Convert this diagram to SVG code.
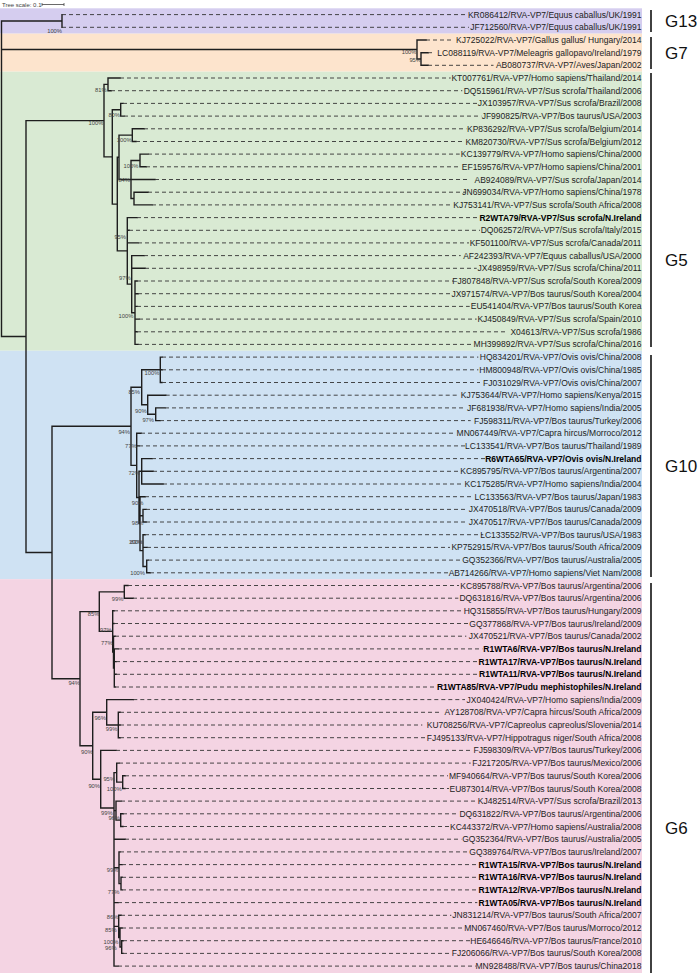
<svg xmlns="http://www.w3.org/2000/svg" width="700" height="973" viewBox="0 0 700 973">
<style>
text{font-family:"Liberation Sans",Arial,sans-serif}
.t{font-size:8.5px;fill:#222;text-anchor:end}
.b{font-weight:bold;fill:#000}
.bs{font-size:5.8px;fill:#444;text-anchor:end}
.br{stroke:#1e1e1e;stroke-width:1.4;fill:none;stroke-linecap:square}
.ds{stroke:#333;stroke-width:0.9;fill:none;stroke-dasharray:4 3}
.bar{stroke:#111;stroke-width:1.6}
.cl{font-size:17px;fill:#111}
</style>
<rect width="700" height="973" fill="#fff"/>
<g id="bands">
<rect x="0" y="8.3" width="642" height="25.35" fill="#d5cdef"/>
<rect x="0" y="33.65" width="642" height="38" fill="#fde4cd"/>
<rect x="0" y="71.65" width="642" height="279.1" fill="#d9ead3"/>
<rect x="0" y="350.75" width="642" height="228.4" fill="#cfe2f3"/>
<rect x="0" y="579.15" width="642" height="393.85" fill="#f4d4e3"/>
</g>
<g id="scale">
<text x="2" y="7" style="font-size:6px;fill:#444">Tree scale: 0.1</text>
<path d="M42 4.5H64M42 3V6M64 3V6" stroke="#444" stroke-width="0.8"/>
</g>
<g id="connectors">
<path class="br" d="M1.5 20.95V336.5M1.5 20.95H62M1.5 49.5H417M1.5 336.5H26
M62 14.6V27.3
M417 40V59M417 40H426M417 59H421
M421 52.7V65.3M421 52.7H428M421 65.3H428
M26 120.6V552.5M26 120.6H104M26 552.5H52
M104 84.35V156.9M104 84.35H108M104 156.9H112.3
M108 78V90.7M108 78H120M108 90.7H111
M112.3 109.75V204.1M112.3 109.75H120.7M112.3 204.1H117.3
M120.7 103.4V116.1M120.7 103.4H123M120.7 116.1H124
M117.3 157.3V250.9M117.3 157.3H119M117.3 250.9H127.3
M119 135.15V179.5M119 135.15H132.3M119 179.5H131
M132.3 128.8V141.5M132.3 128.8H144M132.3 141.5H136
M131 160.45V198.55M131 160.45H140M131 179.5H155M131 198.55H134
M140 154.1V166.8M140 154.1H148M140 166.8H146
M134 192.2V204.9M134 192.2H148M134 204.9H152
M127.3 217.6V284.15M127.3 217.6H137M127.3 230.3H129M127.3 242.9H138M127.3 284.15H131.7
M131.7 255.6V312.7M131.7 255.6H144M131.7 268.3H145M131.7 312.7H135
M135 281V344.4M135 281H137M135 293.7H138M135 306.4H137M135 319.1H139M135 331.8H137M135 344.4H138
M52 426.3V678.7M52 426.3H131M52 678.7H80
M131 387.25V465.35M131 387.25H141.7M131 465.35H136.7
M141.7 369.8V404.7M141.7 369.8H160.3M141.7 404.7H147.7
M160.3 357.1V382.5M160.3 357.1H162M160.3 369.8H162M160.3 382.5H162
M147.7 395.2V414.25M147.7 395.2H165.7M147.7 414.25H155.7
M155.7 407.9V420.6M155.7 407.9H165M155.7 420.6H160
M136.7 433.2V497.5M136.7 433.2H141M136.7 445.9H139M136.7 497.5H139
M139 471.3V523.6M139 471.3H141.7M139 523.6H140
M141.7 458.6V484M141.7 458.6H152M141.7 471.3H153M141.7 484H163
M140 496.7V550.6M140 496.7H145M140 515.7H143M140 550.6H143
M143 509.4V522M143 509.4H146M143 522H146
M143 534.7V566.45M143 534.7H145M143 547.4H147M143 566.45H146.7
M146.7 560.1V572.8M146.7 560.1H148M146.7 572.8H150
M80 611.6V745.75M80 611.6H99.3M80 745.75H92.7
M99.3 591.85V631.4M99.3 591.85H124.3M99.3 631.4H112.7
M124.3 585.5V598.2M124.3 585.5H128M124.3 598.2H133
M112.7 610.8V652M112.7 610.8H114M112.7 623.5H114M112.7 652H113.5
M113.5 636.2V667.95M113.5 636.2H115M113.5 667.95H114.3
M114.3 648.9V687M114.3 648.9H118M114.3 661.6H116M114.3 674.3H116M114.3 687H115
M92.7 712.3V779.2M92.7 712.3H106.7M92.7 779.2H100.7
M106.7 699.6V725M106.7 699.6H133.3M106.7 725H118.3
M118.3 712.3V737.7M118.3 712.3H120M118.3 725H120M118.3 737.7H120
M100.7 750.4V808M100.7 750.4H116M100.7 808H114
M114 772.6V966.1M114 772.6H116.7M114 810.6H116M114 839.2H125M114 867.75H119M114 902.6H118M114 926.4H118.7M114 966.1H118
M116.7 763.1V782.15M116.7 763.1H119M116.7 782.15H122.7
M122.7 775.8V788.5M122.7 775.8H125M122.7 788.5H125
M116 801.1V820.15M116 801.1H121M116 820.15H120.7
M120.7 813.8V826.5M120.7 813.8H123M120.7 826.5H123
M119 851.9V883.6M119 851.9H120M119 864.6H122M119 883.6H121
M121 877.3V889.9M121 877.3H122M121 889.9H122
M118.7 915.3V937.5M118.7 915.3H121M118.7 937.5H120
M120 928V947.05M120 928H122M120 947.05H121.7
M121.7 940.7V953.4M121.7 940.7H123M121.7 953.4H123"/>
<path class="ds" d="M62 14.6H465.5M62 27.3H468.9M426 40H454M428 52.7H434.5M428 65.3H493.5
M120 78H450.7M111 90.7H462.3M123 103.4H477.3M124 116.1H481.3M144 128.8H466.3M136 141.5H465M148 154.1H459.7M146 166.8H461M155 179.5H469.7M148 192.2H465.7M152 204.9H451.7M137 217.6H478.3M129 230.3H480M138 242.9H469M144 255.6H460.7M145 268.3H476.7M137 281H453M138 293.7H450.7M137 306.4H469.7M139 319.1H476.7M137 331.8H508M138 344.4H473
M162 357.1H478.3M162 369.8H478.3M162 382.5H480M165.7 395.2H459.7M165 407.9H464M160 420.6H470.7M141 433.2H453M139 445.9H465.7M152 458.6H485M153 471.3H459M163 484H462.3M145 496.7H473M146 509.4H467.3M146 522H467.3M145 534.7H483.3M147 547.4H450M148 560.1H461.7M150 572.8H448
M128 585.5H459M133 598.2H458.3M114 610.8H462.3M114 623.5H468.3M115 636.2H466.3M118 648.9H482.3M116 661.6H477.3M116 674.3H477.3M115 687H436.3M133.3 699.6H465M120 712.3H440.7M120 725H422.3M120 737.7H425M116 750.4H470.7M119 763.1H470.7M125 775.8H448M125 788.5H449M121 801.1H476.7M123 813.8H458.3M123 826.5H449M125 839.2H461.3M120 851.9H468M122 864.6H477.3M122 877.3H477.3M122 889.9H477.3M118 902.6H477.3M121 915.3H451.3M122 928H463M123 940.7H470M123 953.4H451.3M118 966.1H475.7"/>
</g>
<g id="support" class="bs">
<text class="bs" x="62" y="33">100%</text>
<text class="bs" x="416.5" y="53.5">100%</text>
<text class="bs" x="421" y="62">95%</text>
<text class="bs" x="106.7" y="92">81%</text>
<text class="bs" x="120" y="117">80%</text>
<text class="bs" x="103.3" y="125.3">100%</text>
<text class="bs" x="131.7" y="142">100%</text>
<text class="bs" x="138.3" y="168">100%</text>
<text class="bs" x="130" y="182">84%</text>
<text class="bs" x="126" y="238.7">95%</text>
<text class="bs" x="130.7" y="280.3">97%</text>
<text class="bs" x="133.3" y="318">100%</text>
<text class="bs" x="159.3" y="374.7">100%</text>
<text class="bs" x="140" y="393.7">85%</text>
<text class="bs" x="146.7" y="413">90%</text>
<text class="bs" x="154" y="422">97%</text>
<text class="bs" x="130" y="433.7">94%</text>
<text class="bs" x="136.7" y="448">77%</text>
<text class="bs" x="140" y="475.3">72%</text>
<text class="bs" x="143.3" y="505.3">90%</text>
<text class="bs" x="143.3" y="524.7">98%</text>
<text class="bs" x="142" y="543.7">83%</text>
<text class="bs" x="143.5" y="543.7">100%</text>
<text class="bs" x="145" y="575.3">100%</text>
<text class="bs" x="123.3" y="601">99%</text>
<text class="bs" x="99.3" y="616.3">85%</text>
<text class="bs" x="111.7" y="632">97%</text>
<text class="bs" x="112.7" y="645.3">77%</text>
<text class="bs" x="80" y="685.3">94%</text>
<text class="bs" x="106" y="720.3">96%</text>
<text class="bs" x="117.3" y="731.3">99%</text>
<text class="bs" x="92.7" y="753.7">90%</text>
<text class="bs" x="115" y="781.3">95%</text>
<text class="bs" x="100" y="788">90%</text>
<text class="bs" x="121.7" y="791.3">100%</text>
<text class="bs" x="112.7" y="815.3">99%</text>
<text class="bs" x="120" y="820.3">96%</text>
<text class="bs" x="118.3" y="872">99%</text>
<text class="bs" x="119.3" y="893.7">77%</text>
<text class="bs" x="118.3" y="918.7">86%</text>
<text class="bs" x="116.7" y="932">85%</text>
<text class="bs" x="118.3" y="944.3">100%</text>
<text class="bs" x="116.7" y="950.3">96%</text>
</g>
<g id="tips">
<g id="n-KR086412"><text class="t" x="641.5" y="17.6">KR086412/RVA-VP7/Equus caballus/UK/1991</text></g>
<g id="n-JF712560"><text class="t" x="641.5" y="30.3">JF712560/RVA-VP7/Equus caballus/UK/1991</text></g>
<g id="n-KJ725022"><text class="t" x="641.5" y="43">KJ725022/RVA-VP7/Gallus gallus/ Hungary/2014</text></g>
<g id="n-LC088119"><text class="t" x="641.5" y="55.7">LC088119/RVA-VP7/Meleagris gallopavo/Ireland/1979</text></g>
<g id="n-AB080737"><text class="t" x="641.5" y="68.3">AB080737/RVA-VP7/Aves/Japan/2002</text></g>
<g id="n-KT007761"><text class="t" x="641.5" y="81">KT007761/RVA-VP7/Homo sapiens/Thailand/2014</text></g>
<g id="n-DQ515961"><text class="t" x="641.5" y="93.7">DQ515961/RVA-VP7/Sus scrofa/Thailand/2006</text></g>
<g id="n-JX103957"><text class="t" x="641.5" y="106.4">JX103957/RVA-VP7/Sus scrofa/Brazil/2008</text></g>
<g id="n-JF990825"><text class="t" x="641.5" y="119.1">JF990825/RVA-VP7/Bos taurus/USA/2003</text></g>
<g id="n-KP836292"><text class="t" x="641.5" y="131.8">KP836292/RVA-VP7/Sus scrofa/Belgium/2014</text></g>
<g id="n-KM820730"><text class="t" x="641.5" y="144.5">KM820730/RVA-VP7/Sus scrofa/Belgium/2012</text></g>
<g id="n-KC139779"><text class="t" x="641.5" y="157.1">KC139779/RVA-VP7/Homo sapiens/China/2000</text></g>
<g id="n-EF159576"><text class="t" x="641.5" y="169.8">EF159576/RVA-VP7/Homo sapiens/China/2001</text></g>
<g id="n-AB924089"><text class="t" x="641.5" y="182.5">AB924089/RVA-VP7/Sus scrofa/Japan/2014</text></g>
<g id="n-JN699034"><text class="t" x="641.5" y="195.2">JN699034/RVA-VP7/Homo sapiens/China/1978</text></g>
<g id="n-KJ753141"><text class="t" x="641.5" y="207.9">KJ753141/RVA-VP7/Sus scrofa/South Africa/2008</text></g>
<g id="n-R2WTA79"><text class="t b" x="641.5" y="220.6">R2WTA79/RVA-VP7/Sus scrofa/N.Ireland</text></g>
<g id="n-DQ062572"><text class="t" x="641.5" y="233.3">DQ062572/RVA-VP7/Sus scrofa/Italy/2015</text></g>
<g id="n-KF501100"><text class="t" x="641.5" y="245.9">KF501100/RVA-VP7/Sus scrofa/Canada/2011</text></g>
<g id="n-AF242393"><text class="t" x="641.5" y="258.6">AF242393/RVA-VP7/Equus caballus/USA/2000</text></g>
<g id="n-JX498959"><text class="t" x="641.5" y="271.3">JX498959/RVA-VP7/Sus scrofa/China/2011</text></g>
<g id="n-FJ807848"><text class="t" x="641.5" y="284">FJ807848/RVA-VP7/Sus scrofa/South Korea/2009</text></g>
<g id="n-JX971574"><text class="t" x="641.5" y="296.7">JX971574/RVA-VP7/Bos taurus/South Korea/2004</text></g>
<g id="n-EU541404"><text class="t" x="641.5" y="309.4">EU541404/RVA-VP7/Bos taurus/South Korea</text></g>
<g id="n-KJ450849"><text class="t" x="641.5" y="322.1">KJ450849/RVA-VP7/Sus scrofa/Spain/2010</text></g>
<g id="n-X04613"><text class="t" x="641.5" y="334.8">X04613/RVA-VP7/Sus scrofa/1986</text></g>
<g id="n-MH399892"><text class="t" x="641.5" y="347.4">MH399892/RVA-VP7/Sus scrofa/China/2016</text></g>
<g id="n-HQ834201"><text class="t" x="641.5" y="360.1">HQ834201/RVA-VP7/Ovis ovis/China/2008</text></g>
<g id="n-HM800948"><text class="t" x="641.5" y="372.8">HM800948/RVA-VP7/Ovis ovis/China/1985</text></g>
<g id="n-FJ031029"><text class="t" x="641.5" y="385.5">FJ031029/RVA-VP7/Ovis ovis/China/2007</text></g>
<g id="n-KJ753644"><text class="t" x="641.5" y="398.2">KJ753644/RVA-VP7/Homo sapiens/Kenya/2015</text></g>
<g id="n-JF681938"><text class="t" x="641.5" y="410.9">JF681938/RVA-VP7/Homo sapiens/India/2005</text></g>
<g id="n-FJ598311"><text class="t" x="641.5" y="423.6">FJ598311/RVA-VP7/Bos taurus/Turkey/2006</text></g>
<g id="n-MN067449"><text class="t" x="641.5" y="436.2">MN067449/RVA-VP7/Capra hircus/Morroco/2012</text></g>
<g id="n-LC133541"><text class="t" x="641.5" y="448.9">LC133541/RVA-VP7/Bos taurus/Thailand/1989</text></g>
<g id="n-R6WTA65"><text class="t b" x="641.5" y="461.6">R6WTA65/RVA-VP7/Ovis ovis/N.Ireland</text></g>
<g id="n-KC895795"><text class="t" x="641.5" y="474.3">KC895795/RVA-VP7/Bos taurus/Argentina/2007</text></g>
<g id="n-KC175285"><text class="t" x="641.5" y="487">KC175285/RVA-VP7/Homo sapiens/India/2004</text></g>
<g id="n-LC133563"><text class="t" x="641.5" y="499.7">LC133563/RVA-VP7/Bos taurus/Japan/1983</text></g>
<g id="n-JX470518"><text class="t" x="641.5" y="512.4">JX470518/RVA-VP7/Bos taurus/Canada/2009</text></g>
<g id="n-JX470517"><text class="t" x="641.5" y="525">JX470517/RVA-VP7/Bos taurus/Canada/2009</text></g>
<g id="n-LC133552"><text class="t" x="641.5" y="537.7">LC133552/RVA-VP7/Bos taurus/USA/1983</text></g>
<g id="n-KP752915"><text class="t" x="641.5" y="550.4">KP752915/RVA-VP7/Bos taurus/South Africa/2009</text></g>
<g id="n-GQ352366"><text class="t" x="641.5" y="563.1">GQ352366/RVA-VP7/Bos taurus/Australia/2005</text></g>
<g id="n-AB714266"><text class="t" x="641.5" y="575.8">AB714266/RVA-VP7/Homo sapiens/Viet Nam/2008</text></g>
<g id="n-KC895788"><text class="t" x="641.5" y="588.5">KC895788/RVA-VP7/Bos taurus/Argentina/2006</text></g>
<g id="n-DQ631816"><text class="t" x="641.5" y="601.2">DQ631816/RVA-VP7/Bos taurus/Argentina/2006</text></g>
<g id="n-HQ315855"><text class="t" x="641.5" y="613.8">HQ315855/RVA-VP7/Bos taurus/Hungary/2009</text></g>
<g id="n-GQ377868"><text class="t" x="641.5" y="626.5">GQ377868/RVA-VP7/Bos taurus/Ireland/2009</text></g>
<g id="n-JX470521"><text class="t" x="641.5" y="639.2">JX470521/RVA-VP7/Bos taurus/Canada/2002</text></g>
<g id="n-R1WTA6"><text class="t b" x="641.5" y="651.9">R1WTA6/RVA-VP7/Bos taurus/N.Ireland</text></g>
<g id="n-R1WTA17"><text class="t b" x="641.5" y="664.6">R1WTA17/RVA-VP7/Bos taurus/N.Ireland</text></g>
<g id="n-R1WTA11"><text class="t b" x="641.5" y="677.3">R1WTA11/RVA-VP7/Bos taurus/N.Ireland</text></g>
<g id="n-R1WTA85"><text class="t b" x="641.5" y="690">R1WTA85/RVA-VP7/Pudu mephistophiles/N.Ireland</text></g>
<g id="n-JX040424"><text class="t" x="641.5" y="702.6">JX040424/RVA-VP7/Homo sapiens/India/2009</text></g>
<g id="n-AY128708"><text class="t" x="641.5" y="715.3">AY128708/RVA-VP7/Capra hircus/South Africa/2009</text></g>
<g id="n-KU708256"><text class="t" x="641.5" y="728">KU708256/RVA-VP7/Capreolus capreolus/Slovenia/2014</text></g>
<g id="n-FJ495133"><text class="t" x="641.5" y="740.7">FJ495133/RVA-VP7/Hippotragus niger/South Africa/2008</text></g>
<g id="n-FJ598309"><text class="t" x="641.5" y="753.4">FJ598309/RVA-VP7/Bos taurus/Turkey/2006</text></g>
<g id="n-FJ217205"><text class="t" x="641.5" y="766.1">FJ217205/RVA-VP7/Bos taurus/Mexico/2006</text></g>
<g id="n-MF940664"><text class="t" x="641.5" y="778.8">MF940664/RVA-VP7/Bos taurus/South Korea/2006</text></g>
<g id="n-EU873014"><text class="t" x="641.5" y="791.5">EU873014/RVA-VP7/Bos taurus/South Korea/2008</text></g>
<g id="n-KJ482514"><text class="t" x="641.5" y="804.1">KJ482514/RVA-VP7/Sus scrofa/Brazil/2013</text></g>
<g id="n-DQ631822"><text class="t" x="641.5" y="816.8">DQ631822/RVA-VP7/Bos taurus/Argentina/2006</text></g>
<g id="n-KC443372"><text class="t" x="641.5" y="829.5">KC443372/RVA-VP7/Homo sapiens/Australia/2008</text></g>
<g id="n-GQ352364"><text class="t" x="641.5" y="842.2">GQ352364/RVA-VP7/Bos taurus/Australia/2005</text></g>
<g id="n-GQ389764"><text class="t" x="641.5" y="854.9">GQ389764/RVA-VP7/Bos taurus/Ireland/2007</text></g>
<g id="n-R1WTA15"><text class="t b" x="641.5" y="867.6">R1WTA15/RVA-VP7/Bos taurus/N.Ireland</text></g>
<g id="n-R1WTA16"><text class="t b" x="641.5" y="880.3">R1WTA16/RVA-VP7/Bos taurus/N.Ireland</text></g>
<g id="n-R1WTA12"><text class="t b" x="641.5" y="892.9">R1WTA12/RVA-VP7/Bos taurus/N.Ireland</text></g>
<g id="n-R1WTA05"><text class="t b" x="641.5" y="905.6">R1WTA05/RVA-VP7/Bos taurus/N.Ireland</text></g>
<g id="n-JN831214"><text class="t" x="641.5" y="918.3">JN831214/RVA-VP7/Bos taurus/South Africa/2007</text></g>
<g id="n-MN067460"><text class="t" x="641.5" y="931">MN067460/RVA-VP7/Bos taurus/Morroco/2012</text></g>
<g id="n-HE646646"><text class="t" x="641.5" y="943.7">HE646646/RVA-VP7/Bos taurus/France/2010</text></g>
<g id="n-FJ206066"><text class="t" x="641.5" y="956.4">FJ206066/RVA-VP7/Bos taurus/South Korea/2008</text></g>
<g id="n-MN928488"><text class="t" x="641.5" y="969.1">MN928488/RVA-VP7/Bos taurus/China2018</text></g>
</g>
<g id="clades">
<g id="c-G13"><line class="bar" x1="651" y1="10" x2="651" y2="32"/><text class="cl" x="665" y="27">G13</text></g>
<g id="c-G7"><line class="bar" x1="651" y1="37" x2="651" y2="69"/><text class="cl" x="665" y="59">G7</text></g>
<g id="c-G5"><line class="bar" x1="651" y1="73" x2="651" y2="347"/><text class="cl" x="665" y="266">G5</text></g>
<g id="c-G10"><line class="bar" x1="651" y1="355" x2="651" y2="577"/><text class="cl" x="665" y="472">G10</text></g>
<g id="c-G6"><line class="bar" x1="651" y1="583" x2="651" y2="973"/><text class="cl" x="665" y="834">G6</text></g>
</g>
</svg>
